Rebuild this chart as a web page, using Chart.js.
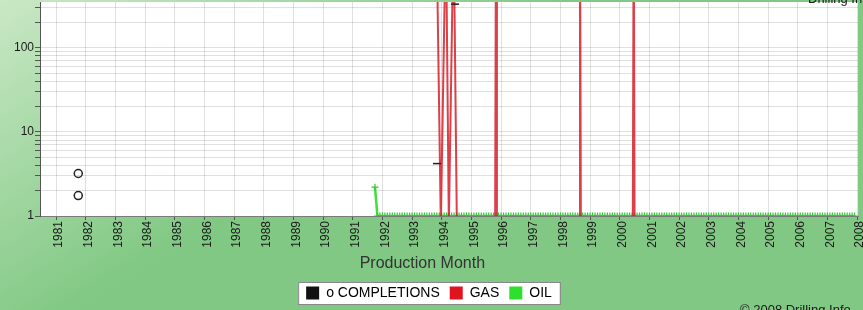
<!DOCTYPE html>
<html>
<head>
<meta charset="utf-8">
<script src="https://cdn.jsdelivr.net/npm/chart.js@4/dist/chart.umd.min.js"></script>
<style>
  html, body { margin: 0; padding: 0; background: #82c985; }
  #wrap { width: 863px; height: 310px; }
</style>
</head>
<body>
<div id="wrap"><canvas id="myChart" width="863" height="310"></canvas></div>
<script>
// completions (open circles)
const completionYears = [1981.75, 1981.75];
const completionValues = [3.2, 1.75];

// small black dashes
const markerYears = [1993.84, 1994.45];
const markerValues = [4.2, 330];

// gas: sparse monthly readings (zero months sit below the axis)
const gasYears = [1993.82, 1993.97, 1994.14, 1994.24, 1994.40, 1994.51,
    1995.80, 1995.83, 1995.86, 1998.63, 1998.66, 1998.69, 2000.44, 2000.47, 2000.50];
const gasValues = [3000, 0.8, 3000, 0.8, 3000, 0.8,
    0.8, 5000, 0.8, 0.8, 5000, 0.8, 0.8, 5000, 0.8];

// oil: monthly, starting Oct 1991
const oilStartYear = 1991.75;
const oilValues = [
    2.2, 1, 1,
    1, 1, 1, 1, 1, 1, 1, 1, 1, 1, 1, 1,   // 1992
    1, 1, 1, 1, 1, 1, 1, 1, 1, 1, 1, 1,   // 1993
    1, 1, 1, 1, 1, 1, 1, 1, 1, 1, 1, 1,   // 1994
    1, 1, 1, 1, 1, 1, 1, 1, 1, 1, 1, 1,   // 1995
    1, 1, 1, 1, 1, 1, 1, 1, 1, 1, 1, 1,   // 1996
    1, 1, 1, 1, 1, 1, 1, 1, 1, 1, 1, 1,   // 1997
    1, 1, 1, 1, 1, 1, 1, 1, 1, 1, 1, 1,   // 1998
    1, 1, 1, 1, 1, 1, 1, 1, 1, 1, 1, 1,   // 1999
    1, 1, 1, 1, 1, 1, 1, 1, 1, 1, 1, 1,   // 2000
    1, 1, 1, 1, 1, 1, 1, 1, 1, 1, 1, 1,   // 2001
    1, 1, 1, 1, 1, 1, 1, 1, 1, 1, 1, 1,   // 2002
    1, 1, 1, 1, 1, 1, 1, 1, 1, 1, 1, 1,   // 2003
    1, 1, 1, 1, 1, 1, 1, 1, 1, 1, 1, 1,   // 2004
    1, 1, 1, 1, 1, 1, 1, 1, 1, 1, 1, 1,   // 2005
    1, 1, 1, 1, 1, 1, 1, 1, 1, 1, 1, 1,   // 2006
    1, 1, 1, 1, 1, 1, 1, 1, 1, 1, 1, 1,   // 2007
];

// log axis: gridlines and labelled ticks
const yGridValues = [1, 2, 3, 4, 5, 6, 7, 8, 9, 10, 20, 30, 40, 50, 60, 70, 80, 90, 100, 200, 300];
const yTickLabels = [1, 10, 100];
const legendNames = ['o COMPLETIONS', 'GAS', 'OIL'];
const legendColors = ['#111111', '#e0141e', '#2ee02e'];

const toPoints = (xs, ys) => xs.map((x, i) => ({ x: x, y: ys[i] }));
const oilPoints = oilValues.map((v, i) => ({ x: oilStartYear + i / 12, y: v }));

const FONT = '"Liberation Sans", Arial, sans-serif';

const bgPlugin = {
    id: 'bg',
    beforeDraw(chart) {
        const { ctx, chartArea } = chart;
        ctx.save();
        const g = ctx.createLinearGradient(0, 0, 160, 260);
        g.addColorStop(0, '#c9e8c5');
        g.addColorStop(1, '#80c883');
        ctx.fillStyle = g;
        ctx.fillRect(0, 0, chart.width, chart.height);
        ctx.fillStyle = '#ffffff';
        ctx.fillRect(chartArea.left, chartArea.top, chartArea.right - chartArea.left, chartArea.bottom - chartArea.top);
        // legend frame
        const boxes = chart.legend.legendHitBoxes;
        if (boxes && boxes.length) {
            const first = boxes[0], last = boxes[boxes.length - 1];
            const x0 = first.left - 8, x1 = last.left + last.width + 8;
            const y0 = first.top - 4, y1 = first.top + first.height + 4;
            ctx.fillStyle = '#ffffff';
            ctx.fillRect(x0, y0, x1 - x0, y1 - y0);
            ctx.strokeStyle = '#888888';
            ctx.lineWidth = 1;
            ctx.strokeRect(x0 + 0.5, y0 + 0.5, x1 - x0, y1 - y0);
        }
        ctx.fillStyle = '#1a1a1a';
        ctx.font = '13px ' + FONT;
        ctx.textBaseline = 'alphabetic';
        ctx.fillText('\u00a9 2008 Drilling Info', 740, 314);
        ctx.fillText('Drilling Info', 808, 3);
        ctx.restore();
    }
};

const cts = document.querySelector('#myChart').getContext('2d');

const config = {
    type: 'line',
    data: {
        datasets: [
            {
                label: legendNames[0],
                data: toPoints(completionYears, completionValues),
                showLine: false,
                pointStyle: 'circle',
                pointRadius: 4,
                pointBorderWidth: 1.5,
                pointBorderColor: '#222',
                pointBackgroundColor: 'rgba(0,0,0,0)',
            },
            {
                label: 'marks',
                data: toPoints(markerYears, markerValues),
                showLine: false,
                pointStyle: 'line',
                pointRadius: 4,
                pointBorderWidth: 1.5,
                pointBorderColor: '#222',
            },
            {
                label: legendNames[1],
                data: toPoints(gasYears, gasValues),
                borderColor: 'rgba(214, 30, 40, 0.85)',
                borderWidth: 2,
                pointRadius: 0,
                tension: 0,
            },
            {
                label: legendNames[2],
                data: oilPoints,
                borderColor: '#3ee03e',
                borderWidth: 2.5,
                pointStyle: 'cross',
                pointRadius: 3.5,
                pointBorderWidth: 1.2,
                pointBorderColor: '#34c834',
                tension: 0,
            },
        ],
    },
    options: {
        responsive: false,
        animation: false,
        layout: { autoPadding: false, padding: { top: 2, right: 5, left: 0, bottom: 0 } },
        plugins: {
            tooltip: { enabled: false },
            legend: {
                position: 'bottom',
                labels: {
                    boxWidth: 13,
                    boxHeight: 13,
                    padding: 10,
                    color: '#111',
                    font: { size: 14, family: FONT },
                    generateLabels: () => legendNames.map((n, i) => ({
                        text: n,
                        fillStyle: legendColors[i],
                        strokeStyle: legendColors[i],
                        lineWidth: 0,
                        datasetIndex: i,
                    })),
                },
            },
        },
        scales: {
            x: {
                type: 'linear',
                min: 1980.46,
                max: 2008.03,
                afterFit: (scale) => {
                    scale.height = 60;
                    scale.paddingLeft = 0;
                    scale.paddingRight = 0;
                },
                ticks: {
                    stepSize: 1,
                    includeBounds: false,
                    autoSkip: false,
                    minRotation: 90,
                    maxRotation: 90,
                    padding: 1,
                    labelOffset: 3,
                    color: '#1a1a1a',
                    font: { size: 12, family: FONT },
                    callback: (v) => String(v),
                },
                grid: { color: 'rgba(0,0,0,0.12)', tickColor: '#555', tickLength: 4 },
                border: { color: '#7a7a7a' },
                title: {
                    display: true,
                    text: 'Production Month            ',
                    color: '#333',
                    font: { size: 16, family: FONT },
                    padding: { top: 0, bottom: 3 },
                },
            },
            y: {
                type: 'logarithmic',
                min: 1,
                max: 350,
                afterBuildTicks: (scale) => {
                    scale.ticks = yGridValues.map((v) => ({ value: v }));
                },
                afterFit: (scale) => {
                    scale.width = 40;
                    scale.paddingTop = 0;
                    scale.paddingBottom = 0;
                },
                ticks: {
                    autoSkip: false,
                    padding: 1,
                    color: '#1a1a1a',
                    font: { size: 12, family: FONT },
                    callback: (v) => yTickLabels.includes(v) ? String(v) : '',
                },
                grid: { color: 'rgba(0,0,0,0.12)', tickColor: '#555', tickLength: 5 },
                border: { color: '#555' },
            },
        },
    },
    plugins: [bgPlugin],
};

const myChart = new Chart(cts, config);
</script>
</body>
</html>
